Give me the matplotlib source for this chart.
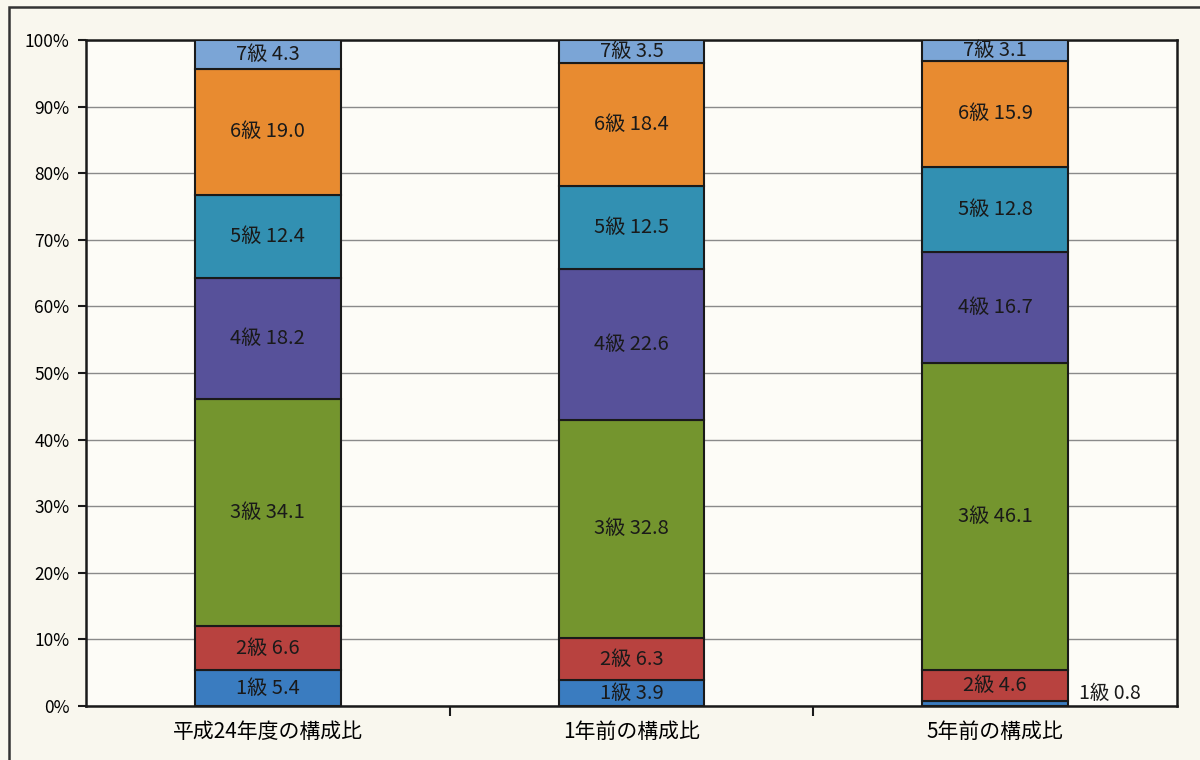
import matplotlib
matplotlib.use("Agg")
import matplotlib.pyplot as plt
from matplotlib.patches import Rectangle

plt.rcParams['font.family'] = ['Noto Sans CJK JP', 'DejaVu Sans']

categories = ["平成24年度の構成比", "1年前の構成比", "5年前の構成比"]
grades = ["1級", "2級", "3級", "4級", "5級", "6級", "7級"]
grade1 = [5.4, 3.9, 0.8]
grade2 = [6.6, 6.3, 4.6]
grade3 = [34.1, 32.8, 46.1]
grade4 = [18.2, 22.6, 16.7]
grade5 = [12.4, 12.5, 12.8]
grade6 = [19.0, 18.4, 15.9]
grade7 = [4.3, 3.5, 3.1]
series = [grade1, grade2, grade3, grade4, grade5, grade6, grade7]
colors = ["#3a7cc0", "#b8423f", "#74952e", "#57519a", "#3290b2", "#e88b30", "#7ba5d6"]
yticks = [0, 10, 20, 30, 40, 50, 60, 70, 80, 90, 100]

fig = plt.figure(figsize=(12, 7.6), dpi=100, facecolor="#f9f7ee")
ax = fig.add_axes([86/1200, 1-706/760, (1177-86)/1200, (706-40)/760])
ax.set_facecolor("#fdfcf7")

# outer frame
fig.add_artist(Rectangle((9/1200, -0.05), 1.2, 1-7/760+0.05, transform=fig.transFigure,
                         fill=False, edgecolor="#333333", lw=1.8))

x = list(range(len(categories)))
bottom = [0.0] * len(categories)
for gi, (vals, col) in enumerate(zip(series, colors)):
    ax.bar(x, vals, width=0.4, bottom=bottom, color=col, edgecolor="#1a1a1a",
           linewidth=1.5, zorder=3)
    for xi, v, b in zip(x, vals, bottom):
        label = f"{grades[gi]} {v:.1f}"
        if v < 2:
            ax.text(xi + 0.23, b + v / 2 + 1.5, label, ha="left", va="center",
                    fontsize=14, color="#1a1a1a", zorder=4)
        else:
            ax.text(xi, b + v / 2, label, ha="center", va="center",
                    fontsize=14.5, color="#1a1a1a", zorder=4)
    bottom = [b + v for b, v in zip(bottom, vals)]

ax.set_xlim(-0.5, 2.5)
ax.set_ylim(0, 100)
ax.set_yticks(yticks)
ax.set_yticklabels([f"{t}%" for t in yticks], fontsize=12.5)
ax.yaxis.grid(True, color="#8a8a8a", linewidth=1.0, zorder=0)
ax.set_axisbelow(True)

ax.set_xticks([0.5, 1.5])
ax.set_xticklabels(["", ""])
ax.set_xticks(x, minor=True)
ax.set_xticklabels(categories, minor=True, fontsize=15)
ax.tick_params(axis="x", which="minor", length=0, pad=11)
ax.tick_params(axis="x", which="major", length=7, width=1.5, color="#1a1a1a", direction="out")
ax.tick_params(axis="y", length=6, width=1.5, color="#1a1a1a", direction="out", pad=6)

for s in ax.spines.values():
    s.set_color("#1a1a1a")
    s.set_linewidth(1.8)

fig.savefig("out.png", dpi=100, facecolor=fig.get_facecolor())
